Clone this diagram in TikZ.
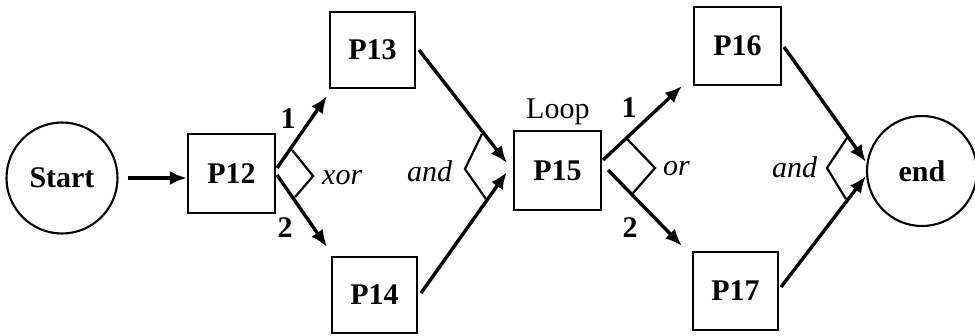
\documentclass[tikz,border=0pt]{standalone}
\usepackage{fontspec}
\setmainfont{Liberation Serif}
\usetikzlibrary{arrows.meta,calc}
\begin{document}
\begin{tikzpicture}[x=1pt,y=-1pt,
  txt/.style={font=\fontsize{30}{33}\selectfont},
  box/.style={draw,line width=2.1pt,inner sep=0pt,font=\fontsize{30}{33}\selectfont\bfseries},
  term/.style={draw,circle,line width=2.1pt,inner sep=0pt,minimum size=111pt,font=\fontsize{30}{33}\selectfont\bfseries},
  flow/.style={line width=3.4pt,-{Latex[length=17pt,width=14pt]}},
  gate/.style={line width=2.2pt,line join=miter},
  op/.style={inner sep=0pt,font=\fontsize{30}{33}\selectfont\itshape,anchor=base west},
  num/.style={inner sep=0pt,font=\fontsize{30}{33}\selectfont\bfseries,anchor=base}]
\useasboundingbox (0,0) rectangle (975,335);

% process nodes
\node[term] (start) at (62,178) {Start};
\node[box,minimum width=87pt,minimum height=79pt] (p12) at (231.5,173.5) {P12};
\node[box,minimum width=85pt,minimum height=76pt] (p13) at (372.5,50) {P13};
\node[box,minimum width=85pt,minimum height=76pt] (p14) at (374.5,295) {P14};
\node[box,minimum width=87pt,minimum height=79pt] (p15) at (557.5,170.5) {P15};
\node[box,minimum width=87pt,minimum height=78pt] (p16) at (737.5,46) {P16};
\node[box,minimum width=85pt,minimum height=78pt] (p17) at (735.5,291) {P17};
\node[term,minimum size=110pt] (end) at (922,171) {end};

% annotations
\node[op] (xor) at (322,184) {xor};
\node[op] (and1) at (407,181) {and};
\node[op] (or) at (663,175) {or};
\node[op] (and2) at (772,177) {and};
\node[txt,inner sep=0pt,anchor=base west] (loop) at (526,118) {Loop};
\node[num] (n1a) at (288,128) {1};
\node[num] (n2a) at (285,237) {2};
\node[num] (n1b) at (629,117) {1};
\node[num] (n2b) at (630,237) {2};

% connectors
\draw[flow] (start.east) ++(9,0) coordinate (s0) -- (p12.west |- s0);
\draw[flow] ($(p12.east)+(1,-5.5)$) -- ($(p13.south west)+(-2,7)$);
\draw[flow] ($(p12.east)+(1,1.5)$) -- ($(p14.north west)+(-4,-9)$);
\draw[flow] ($(p13.east)+(3,0)$) -- ($(p15.west)+(-6,-7.5)$);
\draw[flow] ($(p14.east)+(3,-2)$) -- ($(p15.west)+(-6,1.5)$);
\draw[flow] ($(p15.east)+(1,-10.5)$) -- ($(p16.south west)+(-11,0)$);
\draw[flow] ($(p15.east)+(6,-0.5)$) -- ($(p17.north west)+(-10,-5)$);
\draw[flow] ($(p16.east)+(2,1)$) -- ($(end.west)+(0,-9)$);
\draw[flow] ($(p17.east)+(2,-4)$) -- ($(end.west)+(0,5)$);

% split / join gates
\draw[gate] ($(p12.east)+(16,-23.5)$) -- ($(p12.east)+(37,2.5)$) -- ($(p12.east)+(19,23.5)$);
\draw[gate] ($(p15.west)+(-31,-36.5)$) -- ($(p15.west)+(-48,-1.5)$) -- ($(p15.west)+(-27,28.5)$);
\draw[gate] ($(p15.east)+(25,-31.5)$) -- ($(p15.east)+(53,-2.5)$) -- ($(p15.east)+(31,22.5)$);
\draw[gate] ($(end.west)+(-19,-33)$) -- ($(end.west)+(-39,-3)$) -- ($(end.west)+(-20,28)$);
\end{tikzpicture}
\end{document}
